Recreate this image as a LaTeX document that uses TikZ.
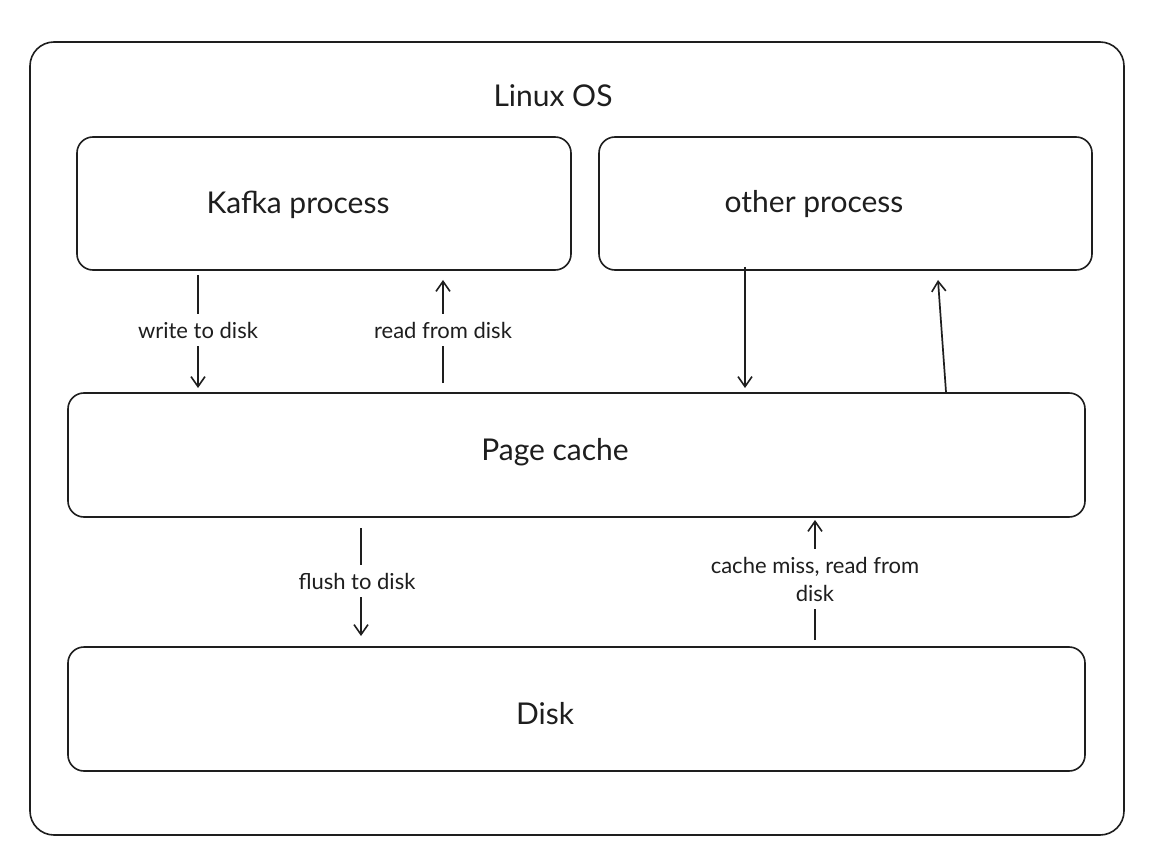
\documentclass[tikz,border=0pt]{standalone}
\usepackage{fontspec}
\setmainfont{Lato}
\usetikzlibrary{arrows.meta}
\definecolor{ink}{HTML}{1E1E1E}
\begin{document}
\begin{tikzpicture}[x=1pt,y=-1pt,
  box/.style={draw=ink,line width=1.6pt,rounded corners=16pt},
  title/.style={font=\fontsize{30}{34}\selectfont,text=ink},
  lbl/.style={font=\fontsize{22}{28}\selectfont,text=ink,fill=white,inner xsep=3pt,inner ysep=8pt,align=center},
  conn/.style={draw=ink,line width=1.7pt,-{Straight Barb[length=10pt,width=14pt,line width=1.6pt]}}]
\useasboundingbox (0,0) rectangle (1154,850);
\fill[white] (0,0) rectangle (1154,850);
\draw[box,rounded corners=24pt] (30,42) rectangle (1124,835);
\node[title] (os) at (553,96) {Linux OS};
\draw[box] (77,137) rectangle (571,270);
\node[title] (kafka) at (298,205) {Kafka process};
\draw[box] (599,137) rectangle (1092,270);
\node[title] (other) at (814,204) {other process};
\draw[box] (68,393) rectangle (1085,517);
\node[title] (cache) at (555,452) {Page cache};
\draw[box] (68,647) rectangle (1085,771);
\node[title] (disk) at (545,714) {Disk};
% connector end points
\coordinate (w1) at (198,275); \coordinate (w2) at (198,388);
\coordinate (r1) at (443,383); \coordinate (r2) at (443,280);
\coordinate (o1) at (745,267); \coordinate (o2) at (745,388);
\coordinate (p1) at (946,392); \coordinate (p2) at (938,280);
\coordinate (f1) at (361,528); \coordinate (f2) at (361,636);
\coordinate (c1) at (815,640); \coordinate (c2) at (815,520);
\draw[conn] (w1) -- (w2);
\node[lbl] (wl) at (198,330) {write to disk};
\draw[conn] (r1) -- (r2);
\node[lbl] (rl) at (443,330) {read from disk};
\draw[conn] (o1) -- (o2);
\draw[conn] (p1) -- (p2);
\draw[conn] (f1) -- (f2);
\node[lbl] (fl) at (357,581) {flush to disk};
\draw[conn] (c1) -- (c2);
\node[lbl] (cl) at (815,579) {cache miss, read from\\disk};
\end{tikzpicture}
\end{document}
